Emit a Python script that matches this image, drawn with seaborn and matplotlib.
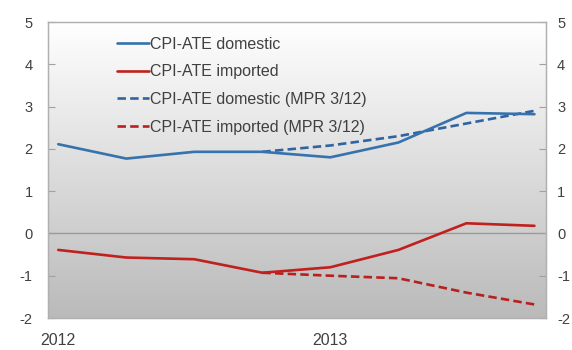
import numpy as np
import pandas as pd
import matplotlib
matplotlib.use("Agg")
import matplotlib.pyplot as plt
from matplotlib.colors import LinearSegmentedColormap
import seaborn as sns

# Quarterly observations, 2012 Q1 - 2013 Q4
quarters = ["2012Q1", "2012Q2", "2012Q3", "2012Q4",
            "2013Q1", "2013Q2", "2013Q3", "2013Q4"]
domestic = [2.11, 1.77, 1.93, 1.93, 1.80, 2.15, 2.85, 2.82]
imported = [-0.39, -0.57, -0.61, -0.93, -0.80, -0.39, 0.24, 0.18]
# Projections from the March 2012 Monetary Policy Report (from 2012Q4 on)
domestic_mpr = [1.93, 2.08, 2.30, 2.60, 2.90]
imported_mpr = [-0.93, -1.00, -1.06, -1.40, -1.68]

year_labels = ["2012", "2013"]
year_label_pos = [0, 4]
yticks = [-2, -1, 0, 1, 2, 3, 4, 5]

BLUE = "#3672ad"
RED = "#c0201e"
TEXT = "#404040"

sns.set_theme(style="white")
plt.rcParams["font.family"] = ["Liberation Sans", "DejaVu Sans"]

x = np.arange(len(quarters))
df = pd.DataFrame({"x": x, "domestic": domestic, "imported": imported})
proj = pd.DataFrame({"x": x[3:], "domestic": domestic_mpr,
                     "imported": imported_mpr})

fig = plt.figure(figsize=(5.72, 3.5), dpi=100)
ax = fig.add_axes([48 / 572, 32 / 350, 498 / 572, 296 / 350])

x0, x1 = -0.151, 7.17
y0, y1 = -2, 5

# vertical grey gradient behind the plot
grad = np.linspace(0, 1, 256)[:, None]
cmap = LinearSegmentedColormap.from_list("bg", ["#bababa", "#ffffff"])
ax.imshow(grad, extent=[x0, x1, y0, y1], origin="lower", aspect="auto",
          cmap=cmap, zorder=0)

ax.axhline(0, color="#9a9a9a", lw=1.0, zorder=1)

lw = 1.9
dash = (0, (3.2, 1.6))
sns.lineplot(data=df, x="x", y="domestic", ax=ax, color=BLUE, lw=lw,
             label="CPI-ATE domestic", zorder=3)
sns.lineplot(data=df, x="x", y="imported", ax=ax, color=RED, lw=lw,
             label="CPI-ATE imported", zorder=3)
sns.lineplot(data=proj, x="x", y="domestic", ax=ax, color="#2f64a0", lw=lw,
             linestyle=dash, label="CPI-ATE domestic (MPR 3/12)", zorder=2)
sns.lineplot(data=proj, x="x", y="imported", ax=ax, color="#b81f1f", lw=lw,
             linestyle=dash, label="CPI-ATE imported (MPR 3/12)", zorder=2)

ax.set_xlim(x0, x1)
ax.set_ylim(y0, y1)
ax.set_xlabel("")
ax.set_ylabel("")

# left y axis, inward ticks
ax.set_yticks(yticks)
ax.set_yticklabels([str(v) for v in yticks])
ax.tick_params(axis="y", direction="in", length=5, width=0.8,
               color="#a0a0a0", labelsize=10.5, labelcolor=TEXT, pad=11,
               left=True, right=False, labelleft=True, labelright=False)

# mirrored right y axis
ax_r = ax.twinx()
ax_r.set_ylim(y0, y1)
ax_r.set_yticks(yticks)
ax_r.set_yticklabels([str(v) for v in yticks])
ax_r.tick_params(axis="y", direction="in", length=5, width=0.8,
                 color="#a0a0a0", labelsize=10.5, labelcolor=TEXT, pad=8)
ax_r.grid(False)

# year boundary tick without label; year labels centred on first quarter
ax.set_xticks([3.836])
ax.set_xticklabels([""])
ax.tick_params(axis="x", direction="in", length=5, width=0.8,
               color="#a0a0a0")
for pos, lab in zip(year_label_pos, year_labels):
    ax.annotate(lab, xy=(pos, 0), xycoords=("data", "axes fraction"),
                xytext=(0, -11), textcoords="offset points",
                ha="center", va="top", fontsize=11.5, color=TEXT)

for a in (ax, ax_r):
    for s in a.spines.values():
        s.set_visible(True)
        s.set_color("#b0b0b0")
        s.set_linewidth(0.9)

ax.legend(loc="upper left", bbox_to_anchor=(0.1386, 0.951), frameon=False,
          borderpad=0, borderaxespad=0, handlelength=2.0,
          handletextpad=0.08, labelspacing=0.8, fontsize=11.5,
          labelcolor=TEXT)

fig.savefig("out.png", dpi=100, facecolor="white")
